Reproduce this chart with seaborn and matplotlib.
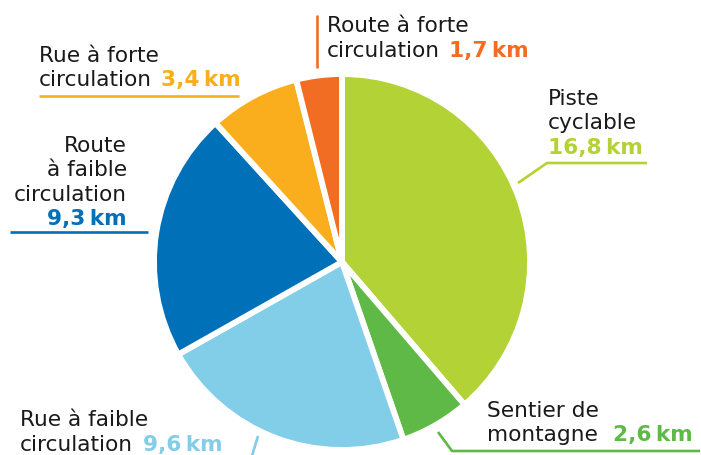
import matplotlib
matplotlib.use("Agg")
import matplotlib.pyplot as plt
import seaborn as sns

# ---------- DATA ----------
categories = ["Piste cyclable", "Sentier de montagne", "Rue à faible circulation",
              "Route à faible circulation", "Rue à forte circulation", "Route à forte circulation"]
values_km = [16.8, 2.6, 9.6, 9.3, 3.4, 1.7]
hex_colors = ["#b3d235", "#5fb947", "#82cde8", "#0070b9", "#fbae1d", "#f26d24"]

sns.set_theme(style="white")
plt.rcParams["font.family"] = ["DejaVu Sans"]
palette = sns.color_palette(hex_colors)

FS = 15.6
W, H = 701, 456

fig = plt.figure(figsize=(W / 100, H / 100), dpi=100)
ax = fig.add_axes([0, 0, 1, 1])

# y axis is inverted (pixel coords), so startangle=-90 + counterclock gives top/clockwise on screen
ax.pie(values_km, colors=palette, startangle=-90, counterclock=True,
       center=(342, 263), radius=188, frame=True,
       wedgeprops=dict(edgecolor="white", linewidth=4.2))
ax.set_xlim(0, W)
ax.set_ylim(H, 0)
ax.axis("off")


def fmt(v):
    return f"{v:.1f}".replace(".", ",") + "\u2009km"


# label layout: text lines, x anchor, baselines, alignment, gap before value (None = value on its own line)
layout = {
    "Piste cyclable": (["Piste", "cyclable", None], 548, [105, 129, 154], "left", 9),
    "Sentier de montagne": (["Sentier de", "montagne"], 487, [417, 441], "left", 15),
    "Rue à faible circulation": (["Rue à faible", "circulation"], 20, [426, 451], "left", 10),
    "Route à faible circulation": (["Route", "à faible", "circulation", None], 127, [152, 176, 201, 225], "right", 9),
    "Rue à forte circulation": (["Rue à forte", "circulation"], 39, [62, 86], "left", 9),
    "Route à forte circulation": (["Route à forte", "circulation"], 327, [32, 57], "left", 9),
}

leaders = {
    "Piste cyclable": ([518, 547, 647], [184, 164, 164]),
    "Sentier de montagne": ([438, 452, 700], [433, 452, 452]),
    "Rue à faible circulation": ([258, 251], [437, 460]),
    "Route à faible circulation": ([10, 148], [233, 233]),
    "Rue à forte circulation": ([39, 239], [97, 97]),
    "Route à forte circulation": ([317, 317], [16, 69]),
}

for cat, val, col in zip(categories, values_km, palette):
    lines, x0, ys, ha, gap = layout[cat]
    last = None
    for line, y in zip(lines, ys):
        if line is None:
            ax.text(x0, y, fmt(val), ha=ha, va="baseline", fontsize=FS,
                    fontweight="bold", color=col)
            last = None
        else:
            last = ax.text(x0, y, line, ha=ha, va="baseline", fontsize=FS, color="#1a1a1a")
    if last is not None:
        ax.annotate(fmt(val), xy=(1, 0), xycoords=last, xytext=(gap, 0),
                    textcoords="offset pixels", ha="left", va="bottom",
                    fontsize=FS, fontweight="bold", color=col)
    lx, ly = leaders[cat]
    ax.plot(lx, ly, color=col, linewidth=1.9, solid_capstyle="butt", clip_on=False)

fig.savefig("out.png", dpi=100, facecolor="white")
